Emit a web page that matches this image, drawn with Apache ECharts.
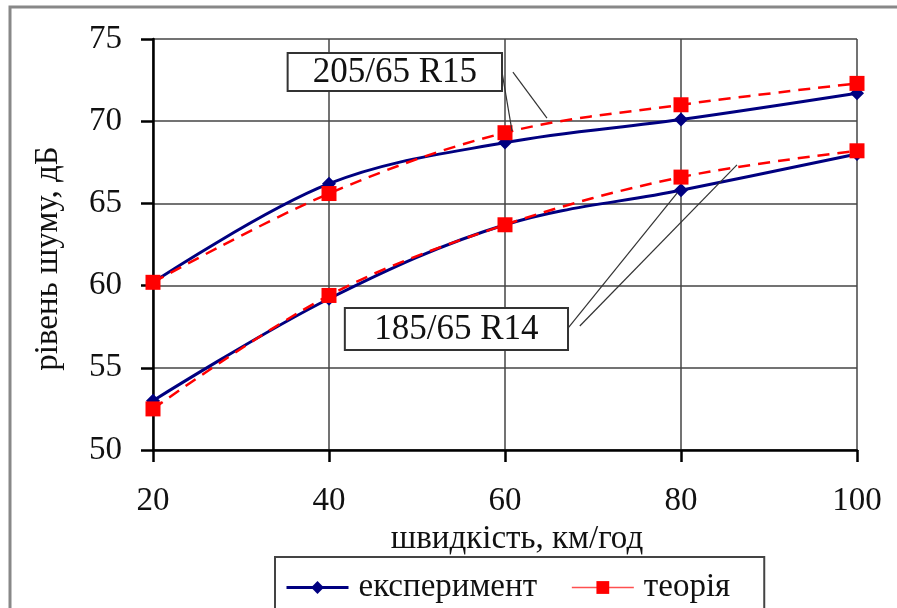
<!DOCTYPE html>
<html>
<head>
<meta charset="utf-8">
<script src="https://cdn.jsdelivr.net/npm/echarts@6/dist/echarts.min.js"></script>
<style>
html,body{margin:0;padding:0;background:#fff;}
#chart{width:897px;height:608px;}
</style>
</head>
<body>
<div id="chart"></div>
<script>
// ---- data ----
var speeds = [20, 40, 60, 80, 100];
var exp205 = [60.2, 66.2, 68.7, 70.1, 71.7];
var theo205 = [60.2, 65.6, 69.3, 71.0, 72.3];
var exp185 = [53.0, 59.2, 63.7, 65.8, 68.0];
var theo185 = [52.5, 59.4, 63.7, 66.6, 68.2];
var seriesNames = ['експеримент', 'теорія'];
var xTitle = 'швидкість, км/год';
var yTitle = 'рівень шуму, дБ';
var label205 = '205/65 R15';
var label185 = '185/65 R14';

function pairs(xs, ys) { return xs.map(function (x, i) { return [x, ys[i]]; }); }

var FONT = 'Liberation Serif, Times New Roman, serif';
var BLUE = '#000080';
var RED = '#ff0000';

var chart = echarts.init(document.getElementById('chart'), null, {renderer: 'canvas'});

function expSeries(data) {
  return {
    name: seriesNames[0], type: 'line', data: pairs(speeds, data),
    smooth: 0.35, symbol: 'diamond', symbolSize: 14,
    lineStyle: {color: BLUE, width: 3},
    itemStyle: {color: BLUE}, z: 3
  };
}
function theoSeries(data) {
  return {
    name: seriesNames[1], type: 'line', data: pairs(speeds, data),
    smooth: 0.35, symbol: 'rect', symbolSize: 15,
    lineStyle: {color: RED, width: 2.5, type: [12, 8]},
    itemStyle: {color: RED}, z: 4
  };
}

var option = {
  animation: false,
  backgroundColor: '#fff',
  grid: {left: 153, right: 40, top: 39, bottom: 158},
  xAxis: {
    type: 'value', min: 20, max: 100, interval: 20,
    name: xTitle, nameLocation: 'middle', nameGap: 62,
    nameTextStyle: {fontFamily: FONT, fontSize: 33, color: '#111', padding: [0, 0, 0, 24]},
    axisLine: {lineStyle: {color: '#000', width: 2.5}},
    axisTick: {show: true, length: 12, lineStyle: {color: '#000', width: 2.5}},
    axisLabel: {fontFamily: FONT, fontSize: 33, color: '#111', margin: 35},
    splitLine: {show: true, lineStyle: {color: '#444', width: 1.5}}
  },
  yAxis: {
    type: 'value', min: 50, max: 75, interval: 5,
    name: yTitle, nameLocation: 'middle', nameGap: 88, nameRotate: 90,
    nameTextStyle: {fontFamily: FONT, fontSize: 33, color: '#111', padding: [0, 28, 0, 0]},
    axisLine: {show: true, lineStyle: {color: '#000', width: 2.5}},
    axisTick: {show: true, length: 12, lineStyle: {color: '#000', width: 2.5}},
    axisLabel: {fontFamily: FONT, fontSize: 33, color: '#111', margin: 31},
    splitLine: {show: true, lineStyle: {color: '#444', width: 1.5}}
  },
  legend: {
    left: 275, top: 557,
    padding: [14, 34, 40, 10],
    borderColor: '#444', borderWidth: 2,
    itemWidth: 62, itemHeight: 16, itemGap: 34,
    textStyle: {fontFamily: FONT, fontSize: 33, color: '#111', padding: [0, 0, 0, 5]},
    data: [
      {name: seriesNames[0], itemStyle: {color: BLUE}, lineStyle: {color: BLUE, width: 3, type: 'solid'}},
      {name: seriesNames[1], itemStyle: {color: RED}, lineStyle: {color: '#ff5050', width: 1.5, type: 'solid'}}
    ]
  },
  series: [expSeries(exp205), theoSeries(theo205), expSeries(exp185), theoSeries(theo185)]
};
chart.setOption(option);

// annotation callouts, positioned in data coordinates
var boxes = [
  {text: label205, x1: 35.3, y1: 74.15, x2: 59.66, y2: 71.84,
   lines: [[59.66, 72.99, 60.8, 69.4], [60.9, 72.99, 64.77, 70.19]]},
  {text: label185, x1: 41.8, y1: 58.64, x2: 67.16, y2: 56.08,
   lines: [[67.16, 57.42, 79.55, 65.63], [68.5, 57.54, 86.36, 67.34]]}
];
function px(x, y) { return chart.convertToPixel({gridIndex: 0}, [x, y]); }
var elems = [{
  type: 'rect', silent: true, z: 100,
  shape: {x: 10, y: 7, width: 1200, height: 1200},
  style: {fill: null, stroke: '#888', lineWidth: 3}
}];
boxes.forEach(function (b) {
  var p1 = px(b.x1, b.y1), p2 = px(b.x2, b.y2);
  b.lines.forEach(function (l) {
    var a = px(l[0], l[1]), c = px(l[2], l[3]);
    elems.push({type: 'line', z: 50, shape: {x1: a[0], y1: a[1], x2: c[0], y2: c[1]},
      style: {stroke: '#333', lineWidth: 1.2}});
  });
  elems.push({type: 'rect', z: 60,
    shape: {x: p1[0], y: p1[1], width: p2[0] - p1[0], height: p2[1] - p1[1]},
    style: {fill: '#fff', stroke: '#333', lineWidth: 2}});
  elems.push({type: 'text', z: 61,
    x: (p1[0] + p2[0]) / 2, y: (p1[1] + p2[1]) / 2 + 1,
    style: {text: b.text, font: '35px ' + FONT, fill: '#111', align: 'center', verticalAlign: 'middle'}});
});
chart.setOption({graphic: {elements: elems}});
</script>
</body>
</html>
